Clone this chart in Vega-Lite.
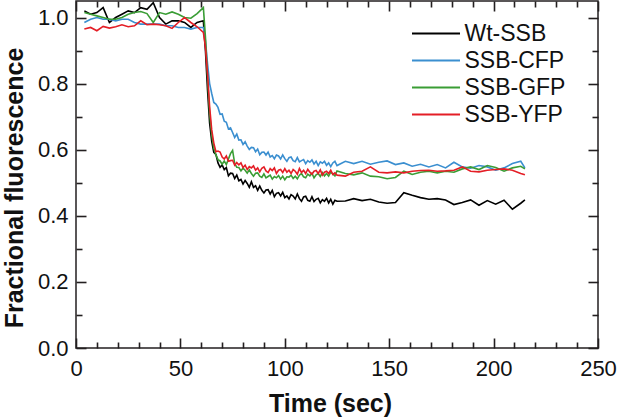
{
"$schema": "https://vega.github.io/schema/vega-lite/v6.json",
"width": 522, "height": 347,
"autosize": {"type": "none"},
"padding": {"left": 76, "top": 1, "right": 24, "bottom": 72},
"background": "white",
"config": {
 "font": "Liberation Sans",
 "view": {"stroke": "#231f20", "strokeWidth": 1.5},
 "axis": {"domain": false, "grid": false, "tickColor": "#231f20", "tickWidth": 1.6, "tickOpacity": 1, "zindex": 2, "labelColor": "#111111", "titleColor": "#111111", "labelFont": "Liberation Sans", "titleFont": "Liberation Sans"}
},
"datasets": {
 "pts": [
{"series":"Wt-SSB","time":4,"value":1.02},{"series":"Wt-SSB","time":7,"value":1.01},{"series":"Wt-SSB","time":10,"value":1.015},{"series":"Wt-SSB","time":13,"value":1.03},{"series":"Wt-SSB","time":16,"value":0.985},{"series":"Wt-SSB","time":19,"value":1.0},{"series":"Wt-SSB","time":22,"value":1.01},{"series":"Wt-SSB","time":25,"value":1.02},{"series":"Wt-SSB","time":28,"value":1.015},{"series":"Wt-SSB","time":31,"value":1.03},{"series":"Wt-SSB","time":34,"value":1.025},{"series":"Wt-SSB","time":37,"value":1.045},{"series":"Wt-SSB","time":40,"value":1.0},{"series":"Wt-SSB","time":43,"value":0.98},{"series":"Wt-SSB","time":46,"value":0.99},{"series":"Wt-SSB","time":49,"value":0.99},{"series":"Wt-SSB","time":52,"value":0.985},{"series":"Wt-SSB","time":55,"value":0.97},{"series":"Wt-SSB","time":58,"value":0.985},{"series":"Wt-SSB","time":61,"value":0.99},
{"series":"Wt-SSB","time":62,"value":0.9},{"series":"Wt-SSB","time":63,"value":0.78},{"series":"Wt-SSB","time":64,"value":0.68},{"series":"Wt-SSB","time":65,"value":0.625},{"series":"Wt-SSB","time":66,"value":0.592},{"series":"Wt-SSB","time":67,"value":0.586},{"series":"Wt-SSB","time":68,"value":0.56},{"series":"Wt-SSB","time":69,"value":0.547},{"series":"Wt-SSB","time":70,"value":0.554},{"series":"Wt-SSB","time":71,"value":0.54},{"series":"Wt-SSB","time":72,"value":0.546},{"series":"Wt-SSB","time":73,"value":0.521},{"series":"Wt-SSB","time":74,"value":0.529},{"series":"Wt-SSB","time":75,"value":0.528},{"series":"Wt-SSB","time":76,"value":0.513},{"series":"Wt-SSB","time":77,"value":0.523},{"series":"Wt-SSB","time":78,"value":0.506},{"series":"Wt-SSB","time":79,"value":0.51},{"series":"Wt-SSB","time":80,"value":0.496},{"series":"Wt-SSB","time":81,"value":0.507},{"series":"Wt-SSB","time":82,"value":0.498},{"series":"Wt-SSB","time":83,"value":0.486},{"series":"Wt-SSB","time":84,"value":0.503},{"series":"Wt-SSB","time":85,"value":0.486},{"series":"Wt-SSB","time":86,"value":0.491},{"series":"Wt-SSB","time":87,"value":0.477},{"series":"Wt-SSB","time":88,"value":0.49},{"series":"Wt-SSB","time":89,"value":0.477},{"series":"Wt-SSB","time":90,"value":0.469},{"series":"Wt-SSB","time":91,"value":0.478},{"series":"Wt-SSB","time":92,"value":0.479},{"series":"Wt-SSB","time":93,"value":0.466},{"series":"Wt-SSB","time":94,"value":0.477},{"series":"Wt-SSB","time":95,"value":0.458},{"series":"Wt-SSB","time":96,"value":0.468},{"series":"Wt-SSB","time":97,"value":0.47},{"series":"Wt-SSB","time":98,"value":0.46},{"series":"Wt-SSB","time":99,"value":0.471},{"series":"Wt-SSB","time":100,"value":0.455},{"series":"Wt-SSB","time":101,"value":0.46},{"series":"Wt-SSB","time":102,"value":0.451},{"series":"Wt-SSB","time":103,"value":0.464},{"series":"Wt-SSB","time":104,"value":0.46},{"series":"Wt-SSB","time":105,"value":0.451},{"series":"Wt-SSB","time":106,"value":0.466},{"series":"Wt-SSB","time":107,"value":0.452},{"series":"Wt-SSB","time":108,"value":0.444},{"series":"Wt-SSB","time":109,"value":0.457},{"series":"Wt-SSB","time":110,"value":0.459},{"series":"Wt-SSB","time":111,"value":0.447},{"series":"Wt-SSB","time":112,"value":0.444},{"series":"Wt-SSB","time":113,"value":0.458},{"series":"Wt-SSB","time":114,"value":0.443},{"series":"Wt-SSB","time":115,"value":0.45},{"series":"Wt-SSB","time":116,"value":0.453},{"series":"Wt-SSB","time":117,"value":0.439},{"series":"Wt-SSB","time":118,"value":0.449},{"series":"Wt-SSB","time":119,"value":0.444},{"series":"Wt-SSB","time":120,"value":0.453},{"series":"Wt-SSB","time":121,"value":0.439},{"series":"Wt-SSB","time":122,"value":0.45},{"series":"Wt-SSB","time":123,"value":0.435},{"series":"Wt-SSB","time":124,"value":0.447},{"series":"Wt-SSB","time":125,"value":0.444},
{"series":"Wt-SSB","time":129,"value":0.445},{"series":"Wt-SSB","time":133,"value":0.452},{"series":"Wt-SSB","time":137,"value":0.446},{"series":"Wt-SSB","time":141,"value":0.45},{"series":"Wt-SSB","time":145,"value":0.442},{"series":"Wt-SSB","time":149,"value":0.438},{"series":"Wt-SSB","time":153,"value":0.44},{"series":"Wt-SSB","time":157,"value":0.47},{"series":"Wt-SSB","time":161,"value":0.462},{"series":"Wt-SSB","time":165,"value":0.455},{"series":"Wt-SSB","time":169,"value":0.45},{"series":"Wt-SSB","time":173,"value":0.452},{"series":"Wt-SSB","time":177,"value":0.448},{"series":"Wt-SSB","time":181,"value":0.434},{"series":"Wt-SSB","time":185,"value":0.44},{"series":"Wt-SSB","time":189,"value":0.448},{"series":"Wt-SSB","time":193,"value":0.432},{"series":"Wt-SSB","time":197,"value":0.446},{"series":"Wt-SSB","time":201,"value":0.435},{"series":"Wt-SSB","time":205,"value":0.447},{"series":"Wt-SSB","time":209,"value":0.42},{"series":"Wt-SSB","time":213,"value":0.438},{"series":"Wt-SSB","time":215,"value":0.448},

{"series":"SSB-CFP","time":4,"value":0.985},{"series":"SSB-CFP","time":7,"value":0.995},{"series":"SSB-CFP","time":10,"value":1.0},{"series":"SSB-CFP","time":13,"value":0.995},{"series":"SSB-CFP","time":16,"value":0.995},{"series":"SSB-CFP","time":19,"value":0.99},{"series":"SSB-CFP","time":22,"value":0.995},{"series":"SSB-CFP","time":25,"value":0.995},{"series":"SSB-CFP","time":28,"value":0.985},{"series":"SSB-CFP","time":31,"value":0.98},{"series":"SSB-CFP","time":34,"value":0.98},{"series":"SSB-CFP","time":37,"value":0.98},{"series":"SSB-CFP","time":40,"value":0.98},{"series":"SSB-CFP","time":43,"value":0.975},{"series":"SSB-CFP","time":46,"value":0.975},{"series":"SSB-CFP","time":49,"value":0.97},{"series":"SSB-CFP","time":52,"value":0.97},{"series":"SSB-CFP","time":55,"value":0.965},{"series":"SSB-CFP","time":58,"value":0.97},{"series":"SSB-CFP","time":61,"value":0.97},
{"series":"SSB-CFP","time":62,"value":0.93},{"series":"SSB-CFP","time":63,"value":0.86},{"series":"SSB-CFP","time":64,"value":0.8},{"series":"SSB-CFP","time":65,"value":0.77},{"series":"SSB-CFP","time":66,"value":0.743},{"series":"SSB-CFP","time":67,"value":0.738},{"series":"SSB-CFP","time":68,"value":0.728},{"series":"SSB-CFP","time":69,"value":0.707},{"series":"SSB-CFP","time":70,"value":0.708},{"series":"SSB-CFP","time":71,"value":0.686},{"series":"SSB-CFP","time":72,"value":0.683},{"series":"SSB-CFP","time":73,"value":0.663},{"series":"SSB-CFP","time":74,"value":0.666},{"series":"SSB-CFP","time":75,"value":0.652},{"series":"SSB-CFP","time":76,"value":0.637},{"series":"SSB-CFP","time":77,"value":0.647},{"series":"SSB-CFP","time":78,"value":0.629},{"series":"SSB-CFP","time":79,"value":0.63},{"series":"SSB-CFP","time":80,"value":0.616},{"series":"SSB-CFP","time":81,"value":0.624},{"series":"SSB-CFP","time":82,"value":0.611},{"series":"SSB-CFP","time":83,"value":0.601},{"series":"SSB-CFP","time":84,"value":0.607},{"series":"SSB-CFP","time":85,"value":0.606},{"series":"SSB-CFP","time":86,"value":0.594},{"series":"SSB-CFP","time":87,"value":0.602},{"series":"SSB-CFP","time":88,"value":0.585},{"series":"SSB-CFP","time":89,"value":0.592},{"series":"SSB-CFP","time":90,"value":0.593},{"series":"SSB-CFP","time":91,"value":0.584},{"series":"SSB-CFP","time":92,"value":0.593},{"series":"SSB-CFP","time":93,"value":0.578},{"series":"SSB-CFP","time":94,"value":0.582},{"series":"SSB-CFP","time":95,"value":0.573},{"series":"SSB-CFP","time":96,"value":0.584},{"series":"SSB-CFP","time":97,"value":0.581},{"series":"SSB-CFP","time":98,"value":0.572},{"series":"SSB-CFP","time":99,"value":0.584},{"series":"SSB-CFP","time":100,"value":0.573},{"series":"SSB-CFP","time":101,"value":0.565},{"series":"SSB-CFP","time":102,"value":0.576},{"series":"SSB-CFP","time":103,"value":0.578},{"series":"SSB-CFP","time":104,"value":0.567},{"series":"SSB-CFP","time":105,"value":0.564},{"series":"SSB-CFP","time":106,"value":0.576},{"series":"SSB-CFP","time":107,"value":0.563},{"series":"SSB-CFP","time":108,"value":0.567},{"series":"SSB-CFP","time":109,"value":0.57},{"series":"SSB-CFP","time":110,"value":0.558},{"series":"SSB-CFP","time":111,"value":0.567},{"series":"SSB-CFP","time":112,"value":0.562},{"series":"SSB-CFP","time":113,"value":0.569},{"series":"SSB-CFP","time":114,"value":0.557},{"series":"SSB-CFP","time":115,"value":0.565},{"series":"SSB-CFP","time":116,"value":0.552},{"series":"SSB-CFP","time":117,"value":0.563},{"series":"SSB-CFP","time":118,"value":0.559},{"series":"SSB-CFP","time":119,"value":0.565},{"series":"SSB-CFP","time":120,"value":0.553},{"series":"SSB-CFP","time":121,"value":0.56},{"series":"SSB-CFP","time":122,"value":0.549},{"series":"SSB-CFP","time":123,"value":0.56},{"series":"SSB-CFP","time":124,"value":0.565},{"series":"SSB-CFP","time":125,"value":0.552},
{"series":"SSB-CFP","time":129,"value":0.565},{"series":"SSB-CFP","time":133,"value":0.558},{"series":"SSB-CFP","time":137,"value":0.565},{"series":"SSB-CFP","time":141,"value":0.556},{"series":"SSB-CFP","time":145,"value":0.562},{"series":"SSB-CFP","time":149,"value":0.566},{"series":"SSB-CFP","time":153,"value":0.555},{"series":"SSB-CFP","time":157,"value":0.56},{"series":"SSB-CFP","time":161,"value":0.55},{"series":"SSB-CFP","time":165,"value":0.556},{"series":"SSB-CFP","time":169,"value":0.548},{"series":"SSB-CFP","time":173,"value":0.555},{"series":"SSB-CFP","time":177,"value":0.545},{"series":"SSB-CFP","time":181,"value":0.562},{"series":"SSB-CFP","time":185,"value":0.548},{"series":"SSB-CFP","time":189,"value":0.544},{"series":"SSB-CFP","time":193,"value":0.552},{"series":"SSB-CFP","time":197,"value":0.548},{"series":"SSB-CFP","time":201,"value":0.538},{"series":"SSB-CFP","time":205,"value":0.545},{"series":"SSB-CFP","time":209,"value":0.558},{"series":"SSB-CFP","time":213,"value":0.565},{"series":"SSB-CFP","time":215,"value":0.545},

{"series":"SSB-GFP","time":4,"value":1.015},{"series":"SSB-GFP","time":7,"value":1.01},{"series":"SSB-GFP","time":10,"value":1.005},{"series":"SSB-GFP","time":13,"value":1.0},{"series":"SSB-GFP","time":16,"value":0.995},{"series":"SSB-GFP","time":19,"value":0.995},{"series":"SSB-GFP","time":22,"value":1.0},{"series":"SSB-GFP","time":25,"value":1.01},{"series":"SSB-GFP","time":28,"value":1.015},{"series":"SSB-GFP","time":31,"value":1.018},{"series":"SSB-GFP","time":34,"value":1.012},{"series":"SSB-GFP","time":37,"value":0.985},{"series":"SSB-GFP","time":40,"value":1.015},{"series":"SSB-GFP","time":43,"value":1.01},{"series":"SSB-GFP","time":46,"value":1.017},{"series":"SSB-GFP","time":49,"value":1.01},{"series":"SSB-GFP","time":52,"value":1.0},{"series":"SSB-GFP","time":55,"value":0.998},{"series":"SSB-GFP","time":58,"value":1.012},{"series":"SSB-GFP","time":61,"value":1.03},
{"series":"SSB-GFP","time":62,"value":0.94},{"series":"SSB-GFP","time":63,"value":0.82},{"series":"SSB-GFP","time":64,"value":0.71},{"series":"SSB-GFP","time":65,"value":0.645},{"series":"SSB-GFP","time":66,"value":0.605},{"series":"SSB-GFP","time":67,"value":0.585},{"series":"SSB-GFP","time":68,"value":0.57},{"series":"SSB-GFP","time":69,"value":0.566},{"series":"SSB-GFP","time":70,"value":0.556},{"series":"SSB-GFP","time":71,"value":0.566},{"series":"SSB-GFP","time":72,"value":0.555},{"series":"SSB-GFP","time":73,"value":0.572},{"series":"SSB-GFP","time":74,"value":0.588},{"series":"SSB-GFP","time":75,"value":0.598},{"series":"SSB-GFP","time":76,"value":0.558},{"series":"SSB-GFP","time":77,"value":0.547},{"series":"SSB-GFP","time":78,"value":0.546},{"series":"SSB-GFP","time":79,"value":0.536},{"series":"SSB-GFP","time":80,"value":0.544},{"series":"SSB-GFP","time":81,"value":0.538},{"series":"SSB-GFP","time":82,"value":0.529},{"series":"SSB-GFP","time":83,"value":0.539},{"series":"SSB-GFP","time":84,"value":0.528},{"series":"SSB-GFP","time":85,"value":0.52},{"series":"SSB-GFP","time":86,"value":0.529},{"series":"SSB-GFP","time":87,"value":0.53},{"series":"SSB-GFP","time":88,"value":0.52},{"series":"SSB-GFP","time":89,"value":0.516},{"series":"SSB-GFP","time":90,"value":0.527},{"series":"SSB-GFP","time":91,"value":0.515},{"series":"SSB-GFP","time":92,"value":0.519},{"series":"SSB-GFP","time":93,"value":0.523},{"series":"SSB-GFP","time":94,"value":0.511},{"series":"SSB-GFP","time":95,"value":0.519},{"series":"SSB-GFP","time":96,"value":0.515},{"series":"SSB-GFP","time":97,"value":0.522},{"series":"SSB-GFP","time":98,"value":0.511},{"series":"SSB-GFP","time":99,"value":0.52},{"series":"SSB-GFP","time":100,"value":0.509},{"series":"SSB-GFP","time":101,"value":0.518},{"series":"SSB-GFP","time":102,"value":0.517},{"series":"SSB-GFP","time":103,"value":0.523},{"series":"SSB-GFP","time":104,"value":0.513},{"series":"SSB-GFP","time":105,"value":0.52},{"series":"SSB-GFP","time":106,"value":0.512},{"series":"SSB-GFP","time":107,"value":0.523},{"series":"SSB-GFP","time":108,"value":0.528},{"series":"SSB-GFP","time":109,"value":0.518},{"series":"SSB-GFP","time":110,"value":0.515},{"series":"SSB-GFP","time":111,"value":0.526},{"series":"SSB-GFP","time":112,"value":0.521},{"series":"SSB-GFP","time":113,"value":0.529},{"series":"SSB-GFP","time":114,"value":0.515},{"series":"SSB-GFP","time":115,"value":0.524},{"series":"SSB-GFP","time":116,"value":0.528},{"series":"SSB-GFP","time":117,"value":0.519},{"series":"SSB-GFP","time":118,"value":0.531},{"series":"SSB-GFP","time":119,"value":0.521},{"series":"SSB-GFP","time":120,"value":0.528},{"series":"SSB-GFP","time":121,"value":0.52},{"series":"SSB-GFP","time":122,"value":0.532},{"series":"SSB-GFP","time":123,"value":0.527},{"series":"SSB-GFP","time":124,"value":0.521},{"series":"SSB-GFP","time":125,"value":0.536},
{"series":"SSB-GFP","time":129,"value":0.528},{"series":"SSB-GFP","time":133,"value":0.524},{"series":"SSB-GFP","time":137,"value":0.53},{"series":"SSB-GFP","time":141,"value":0.52},{"series":"SSB-GFP","time":145,"value":0.518},{"series":"SSB-GFP","time":149,"value":0.512},{"series":"SSB-GFP","time":153,"value":0.516},{"series":"SSB-GFP","time":157,"value":0.535},{"series":"SSB-GFP","time":161,"value":0.525},{"series":"SSB-GFP","time":165,"value":0.532},{"series":"SSB-GFP","time":169,"value":0.535},{"series":"SSB-GFP","time":173,"value":0.53},{"series":"SSB-GFP","time":177,"value":0.535},{"series":"SSB-GFP","time":181,"value":0.532},{"series":"SSB-GFP","time":185,"value":0.542},{"series":"SSB-GFP","time":189,"value":0.548},{"series":"SSB-GFP","time":193,"value":0.54},{"series":"SSB-GFP","time":197,"value":0.552},{"series":"SSB-GFP","time":201,"value":0.546},{"series":"SSB-GFP","time":205,"value":0.535},{"series":"SSB-GFP","time":209,"value":0.545},{"series":"SSB-GFP","time":213,"value":0.55},{"series":"SSB-GFP","time":215,"value":0.542},

{"series":"SSB-YFP","time":4,"value":0.965},{"series":"SSB-YFP","time":7,"value":0.97},{"series":"SSB-YFP","time":10,"value":0.96},{"series":"SSB-YFP","time":13,"value":0.973},{"series":"SSB-YFP","time":16,"value":0.968},{"series":"SSB-YFP","time":19,"value":0.972},{"series":"SSB-YFP","time":22,"value":0.978},{"series":"SSB-YFP","time":25,"value":0.972},{"series":"SSB-YFP","time":28,"value":0.975},{"series":"SSB-YFP","time":31,"value":0.99},{"series":"SSB-YFP","time":34,"value":0.978},{"series":"SSB-YFP","time":37,"value":0.98},{"series":"SSB-YFP","time":40,"value":0.978},{"series":"SSB-YFP","time":43,"value":0.975},{"series":"SSB-YFP","time":46,"value":0.967},{"series":"SSB-YFP","time":49,"value":0.985},{"series":"SSB-YFP","time":52,"value":1.0},{"series":"SSB-YFP","time":55,"value":0.985},{"series":"SSB-YFP","time":58,"value":0.972},{"series":"SSB-YFP","time":61,"value":0.955},
{"series":"SSB-YFP","time":62,"value":0.91},{"series":"SSB-YFP","time":63,"value":0.83},{"series":"SSB-YFP","time":64,"value":0.73},{"series":"SSB-YFP","time":65,"value":0.66},{"series":"SSB-YFP","time":66,"value":0.62},{"series":"SSB-YFP","time":67,"value":0.594},{"series":"SSB-YFP","time":68,"value":0.596},{"series":"SSB-YFP","time":69,"value":0.593},{"series":"SSB-YFP","time":70,"value":0.578},{"series":"SSB-YFP","time":71,"value":0.572},{"series":"SSB-YFP","time":72,"value":0.581},{"series":"SSB-YFP","time":73,"value":0.565},{"series":"SSB-YFP","time":74,"value":0.567},{"series":"SSB-YFP","time":75,"value":0.568},{"series":"SSB-YFP","time":76,"value":0.553},{"series":"SSB-YFP","time":77,"value":0.561},{"series":"SSB-YFP","time":78,"value":0.554},{"series":"SSB-YFP","time":79,"value":0.56},{"series":"SSB-YFP","time":80,"value":0.546},{"series":"SSB-YFP","time":81,"value":0.553},{"series":"SSB-YFP","time":82,"value":0.54},{"series":"SSB-YFP","time":83,"value":0.549},{"series":"SSB-YFP","time":84,"value":0.545},{"series":"SSB-YFP","time":85,"value":0.551},{"series":"SSB-YFP","time":86,"value":0.538},{"series":"SSB-YFP","time":87,"value":0.545},{"series":"SSB-YFP","time":88,"value":0.533},{"series":"SSB-YFP","time":89,"value":0.544},{"series":"SSB-YFP","time":90,"value":0.548},{"series":"SSB-YFP","time":91,"value":0.536},{"series":"SSB-YFP","time":92,"value":0.531},{"series":"SSB-YFP","time":93,"value":0.543},{"series":"SSB-YFP","time":94,"value":0.537},{"series":"SSB-YFP","time":95,"value":0.545},{"series":"SSB-YFP","time":96,"value":0.528},{"series":"SSB-YFP","time":97,"value":0.538},{"series":"SSB-YFP","time":98,"value":0.54},{"series":"SSB-YFP","time":99,"value":0.531},{"series":"SSB-YFP","time":100,"value":0.543},{"series":"SSB-YFP","time":101,"value":0.532},{"series":"SSB-YFP","time":102,"value":0.538},{"series":"SSB-YFP","time":103,"value":0.528},{"series":"SSB-YFP","time":104,"value":0.54},{"series":"SSB-YFP","time":105,"value":0.535},{"series":"SSB-YFP","time":106,"value":0.526},{"series":"SSB-YFP","time":107,"value":0.543},{"series":"SSB-YFP","time":108,"value":0.531},{"series":"SSB-YFP","time":109,"value":0.538},{"series":"SSB-YFP","time":110,"value":0.528},{"series":"SSB-YFP","time":111,"value":0.541},{"series":"SSB-YFP","time":112,"value":0.532},{"series":"SSB-YFP","time":113,"value":0.526},{"series":"SSB-YFP","time":114,"value":0.535},{"series":"SSB-YFP","time":115,"value":0.537},{"series":"SSB-YFP","time":116,"value":0.528},{"series":"SSB-YFP","time":117,"value":0.539},{"series":"SSB-YFP","time":118,"value":0.523},{"series":"SSB-YFP","time":119,"value":0.532},{"series":"SSB-YFP","time":120,"value":0.535},{"series":"SSB-YFP","time":121,"value":0.528},{"series":"SSB-YFP","time":122,"value":0.538},{"series":"SSB-YFP","time":123,"value":0.525},{"series":"SSB-YFP","time":124,"value":0.53},{"series":"SSB-YFP","time":125,"value":0.523},
{"series":"SSB-YFP","time":129,"value":0.52},{"series":"SSB-YFP","time":133,"value":0.532},{"series":"SSB-YFP","time":137,"value":0.535},{"series":"SSB-YFP","time":141,"value":0.548},{"series":"SSB-YFP","time":145,"value":0.532},{"series":"SSB-YFP","time":149,"value":0.53},{"series":"SSB-YFP","time":153,"value":0.533},{"series":"SSB-YFP","time":157,"value":0.53},{"series":"SSB-YFP","time":161,"value":0.535},{"series":"SSB-YFP","time":165,"value":0.537},{"series":"SSB-YFP","time":169,"value":0.538},{"series":"SSB-YFP","time":173,"value":0.535},{"series":"SSB-YFP","time":177,"value":0.536},{"series":"SSB-YFP","time":181,"value":0.538},{"series":"SSB-YFP","time":185,"value":0.548},{"series":"SSB-YFP","time":189,"value":0.535},{"series":"SSB-YFP","time":193,"value":0.533},{"series":"SSB-YFP","time":197,"value":0.538},{"series":"SSB-YFP","time":201,"value":0.54},{"series":"SSB-YFP","time":205,"value":0.542},{"series":"SSB-YFP","time":209,"value":0.538},{"series":"SSB-YFP","time":213,"value":0.528},{"series":"SSB-YFP","time":215,"value":0.524}
 ]
},
"data": {"name": "pts"},
"layer": [
 {
  "mark": {"type": "line", "strokeWidth": 1.6},
  "encoding": {
   "x": {"field": "time", "type": "quantitative", "scale": {"domain": [0, 250], "nice": false, "zero": false},
     "axis": {"orient": "bottom", "values": [0, 10, 20, 30, 40, 50, 60, 70, 80, 90, 100, 110, 120, 130, 140, 150, 160, 170, 180, 190, 200, 210, 220, 230, 240, 250],
       "ticks": true, "tickSize": {"condition": {"test": "datum.value % 50 === 0", "value": -10}, "value": -6},
       "labelExpr": "datum.value % 50 === 0 ? datum.label : ''",
       "labelFontSize": 22, "labelPadding": 20, "labelFlush": false, "labelOverlap": false, "title": "Time (sec)", "titleFontSize": 25, "titleFontWeight": "bold", "titlePadding": 8, "titleX": 254}},
   "y": {"field": "value", "type": "quantitative", "scale": {"domain": [0, 1.05], "nice": false, "zero": false},
     "axis": {"orient": "left", "values": [0, 0.1, 0.2, 0.3, 0.4, 0.5, 0.6, 0.7, 0.8, 0.9, 1.0], "format": ".1f",
       "ticks": true, "tickSize": {"condition": {"test": "round(datum.value * 10) % 2 === 0", "value": -10}, "value": -6},
       "labelExpr": "round(datum.value * 10) % 2 === 0 ? datum.label : ''",
       "labelFontSize": 22, "labelPadding": 18, "labelFlush": false, "labelOverlap": false, "title": "Fractional fluorescence", "titleFontSize": 25, "titleFontWeight": "bold", "titlePadding": 10, "titleY": 186.5}},
   "color": {"field": "series", "type": "nominal",
     "scale": {"domain": ["Wt-SSB", "SSB-CFP", "SSB-GFP", "SSB-YFP"], "range": ["#000000", "#3b8fd0", "#3a9d35", "#e41e26"]},
     "sort": ["Wt-SSB", "SSB-CFP", "SSB-GFP", "SSB-YFP"],
     "legend": {"orient": "none", "legendX": 348.5, "legendY": 21, "title": null, "padding": 0, "symbolType": "M-4,0H4", "symbolSize": 144, "symbolStrokeWidth": 2, "labelFontSize": 23, "labelOffset": 17, "rowPadding": 3, "labelColor": "#111111", "labelFont": "Liberation Sans"}}
  }
 },
 {
  "mark": {"type": "line", "opacity": 0},
  "encoding": {
   "x": {"field": "time", "type": "quantitative", "scale": {"domain": [0, 250], "nice": false, "zero": false},
     "axis": {"orient": "top", "values": [0, 10, 20, 30, 40, 50, 60, 70, 80, 90, 100, 110, 120, 130, 140, 150, 160, 170, 180, 190, 200, 210, 220, 230, 240, 250],
       "ticks": true, "tickSize": {"condition": {"test": "datum.value % 50 === 0", "value": -10}, "value": -6}, "labels": false, "title": null}},
   "y": {"field": "value", "type": "quantitative", "scale": {"domain": [0, 1.05], "nice": false, "zero": false},
     "axis": {"orient": "right", "values": [0, 0.1, 0.2, 0.3, 0.4, 0.5, 0.6, 0.7, 0.8, 0.9, 1.0],
       "ticks": true, "tickSize": {"condition": {"test": "round(datum.value * 10) % 2 === 0", "value": -10}, "value": -6}, "labels": false, "title": null}}
  }
 }
],
"resolve": {"scale": {"x": "independent", "y": "independent"}, "axis": {"x": "independent", "y": "independent"}}
}
